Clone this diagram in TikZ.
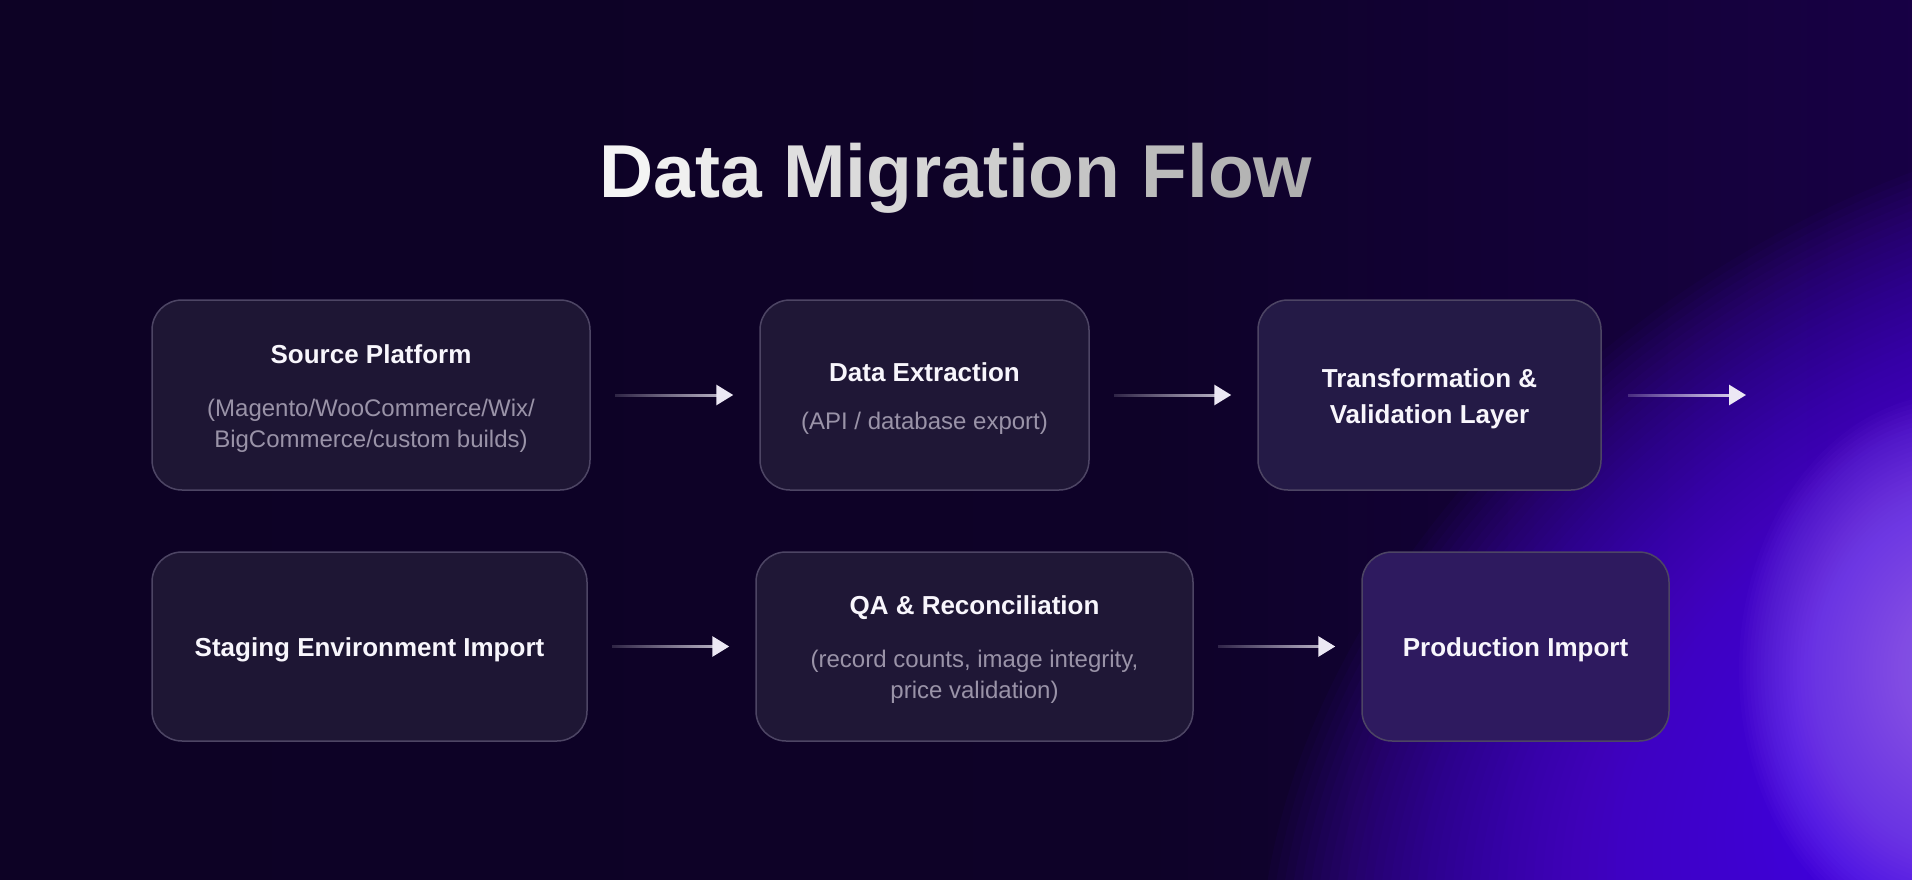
\documentclass[tikz,border=0pt]{standalone}
\usepackage{fontspec}
\setmainfont{Liberation Sans}
\usetikzlibrary{arrows.meta,fadings}

\definecolor{bgA}{HTML}{0C0222}
\definecolor{bgB}{HTML}{0E0228}
\definecolor{bgC}{HTML}{190049}
\definecolor{bgD}{HTML}{220066}
\definecolor{bgE}{HTML}{30008C}
\definecolor{glowA}{HTML}{5A04FA}
\definecolor{glowB}{HTML}{9D6BFF}
\definecolor{boxline}{HTML}{4D4564}
\definecolor{fillA}{HTML}{1E1634}
\definecolor{fillB}{HTML}{1F1736}
\definecolor{fillC}{HTML}{241A46}
\definecolor{fillD}{HTML}{2E1A5F}
\definecolor{subc}{HTML}{9A93A8}
\definecolor{ttlc}{HTML}{F8F6FC}
\definecolor{arrc}{HTML}{ECE8F4}

\pgfdeclarehorizontalshading{bgshade}{100bp}{color(0bp)=(bgA); color(55bp)=(bgB); color(78bp)=(bgC); color(90bp)=(bgD); color(100bp)=(bgE)}
\tikzfading[name=arrowfade, left color=transparent!100, right color=transparent!0]

\newcommand\gc[2]{\textcolor[gray]{#1}{#2}}

\tikzset{
  stepbox/.style={draw=boxline, line width=1.5pt, rounded corners=30pt, inner sep=0pt},
  ttl/.style={text=ttlc, font=\fontsize{26}{30}\selectfont\bfseries, anchor=base, inner sep=0pt},
  sub/.style={text=subc, font=\fontsize{24}{28}\selectfont, anchor=base, inner sep=0pt},
  flowline/.style={draw=arrc, line width=3pt, path fading=arrowfade, arrows=-},
  arrowtip/.style={draw=arrc, line width=3pt, dash pattern=on 0pt off 4000pt, line cap=butt,
    -{Triangle[length=17pt,width=20pt]}},
  flow/.style={preaction={flowline, shorten <=24pt, shorten >=40pt},
    arrowtip, shorten <=24pt, shorten >=26pt},
  flowend/.style={preaction={flowline, shorten <=26pt, shorten >=14pt},
    arrowtip, shorten <=26pt, shorten >=0pt},
}

\begin{document}
\begin{tikzpicture}[x=1pt, y=-1pt]
\useasboundingbox (0,0) rectangle (1912,880);
% background
\begin{scope}
\clip (0,0) rectangle (1912,880);
\shade[shading=bgshade] (0,0) rectangle (1912,880);
\foreach \i in {1,...,80}
  \fill[glowA, fill opacity=0.036, rotate around={35:(1990,760)}] (1990,760) ellipse [x radius={10*\i}, y radius={7*\i}];
\foreach \i in {1,...,60}
  \fill[glowB, fill opacity=0.035] (1955,670) ellipse [x radius={3.6*\i}, y radius={4.6*\i}];
\end{scope}

% title
\node[font=\fontsize{75}{80}\selectfont\bfseries, anchor=base, inner sep=0pt] (title) at (956,197)
 {\gc{0.955}{D}\gc{0.94}{a}\gc{0.925}{t}\gc{0.91}{a} \gc{0.875}{M}\gc{0.86}{i}\gc{0.848}{g}\gc{0.835}{r}\gc{0.82}{a}\gc{0.808}{t}\gc{0.8}{i}\gc{0.788}{o}\gc{0.772}{n} \gc{0.732}{F}\gc{0.72}{l}\gc{0.707}{o}\gc{0.688}{w}};

% boxes
\node[stepbox, fill=fillA, minimum width=438pt, minimum height=190pt] (b1) at (371,395) {};
\node[stepbox, fill=fillB, minimum width=329pt, minimum height=190pt] (b2) at (924.5,395) {};
\node[stepbox, fill=fillC, minimum width=343pt, minimum height=190pt] (b3) at (1429.5,395) {};
\node[stepbox, fill=fillA, minimum width=435pt, minimum height=189pt] (b4) at (369.5,646.5) {};
\node[stepbox, fill=fillB, minimum width=437pt, minimum height=189pt] (b5) at (974.5,646.5) {};
\node[stepbox, fill=fillD, minimum width=307pt, minimum height=189pt] (b6) at (1515.5,646.5) {};

% texts
\node[ttl] (b1t) at (371,363) {Source Platform};
\node[sub] (b1s1) at (371,416) {(Magento/WooCommerce/Wix/};
\node[sub] (b1s2) at (371,447) {BigCommerce/custom builds)};
\node[ttl] (b2t) at (924.5,381) {Data Extraction};
\node[sub] (b2s) at (924.5,429) {(API / database export)};
\node[ttl] (b3t1) at (1429.5,387) {Transformation \&};
\node[ttl] (b3t2) at (1429.5,423) {Validation Layer};
\node[ttl] (b4t) at (369.5,656) {Staging Environment Import};
\node[ttl] (b5t) at (974.5,614) {QA \& Reconciliation};
\node[sub] (b5s1) at (974.5,667) {(record counts, image integrity,};
\node[sub] (b5s2) at (974.5,698) {price validation)};
\node[ttl] (b6t) at (1515.5,656) {Production Import};

% connectors
\coordinate (e3) at (1746,395);
\draw[flow] (b1) -- (b2);
\draw[flow] (b2) -- (b3);
\draw[flowend] (b3) -- (e3);
\draw[flow] (b4) -- (b5);
\draw[flow] (b5) -- (b6);
\end{tikzpicture}
\end{document}
